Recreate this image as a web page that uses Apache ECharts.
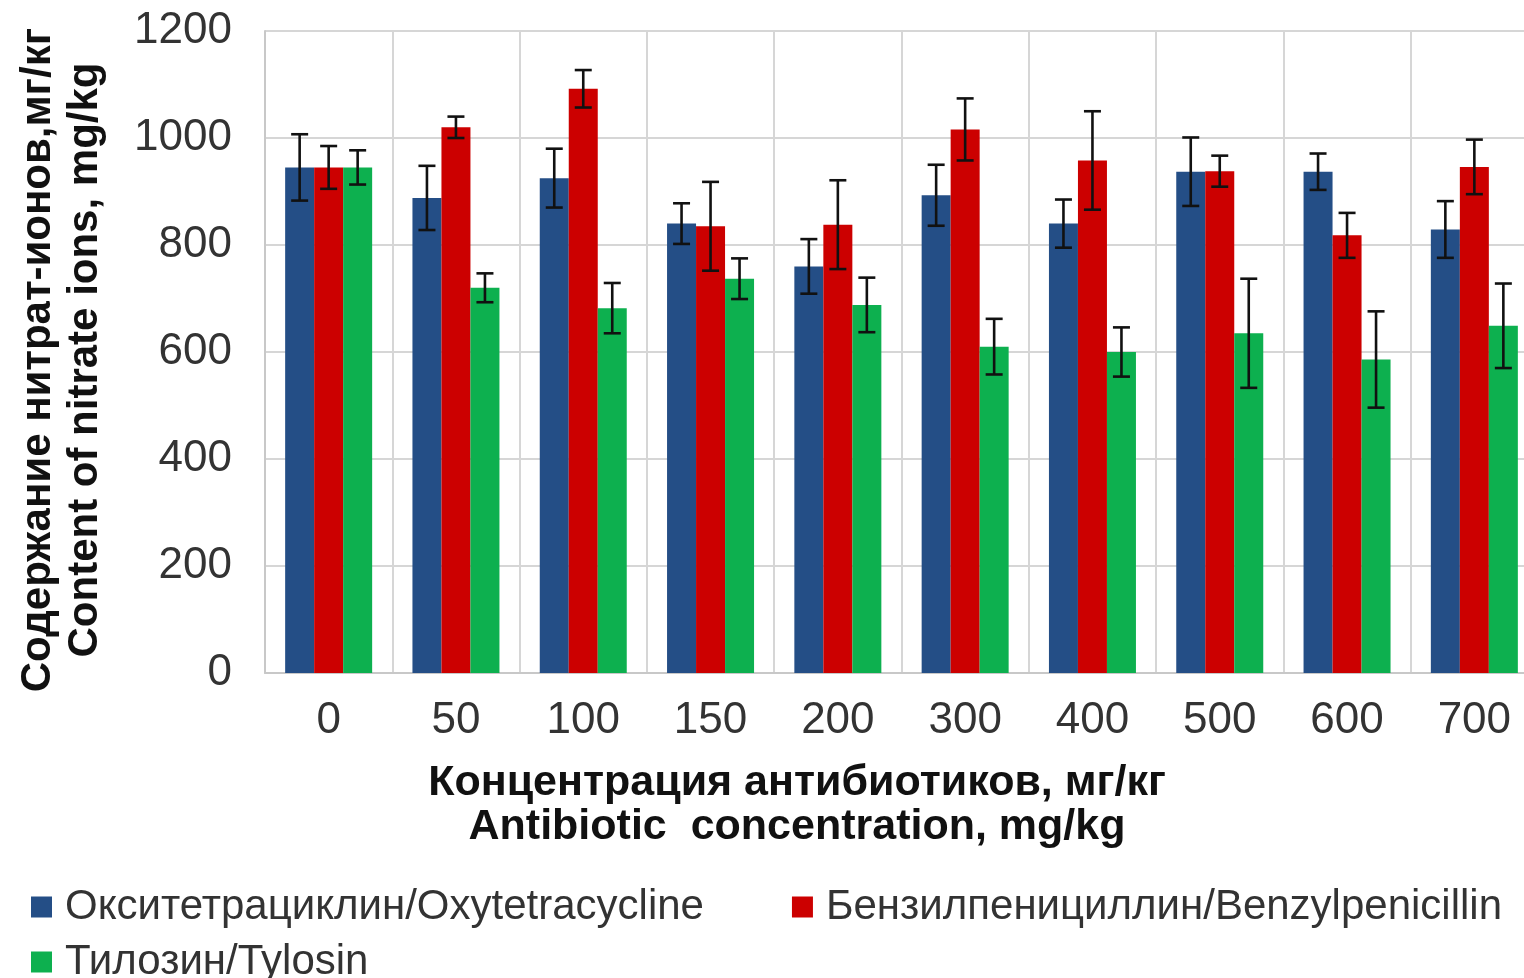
<!DOCTYPE html>
<html>
<head>
<meta charset="utf-8">
<script src="https://cdn.jsdelivr.net/npm/echarts@6/dist/echarts.min.js"></script>
<style>
html,body{margin:0;padding:0;background:#fff;overflow:hidden;}
#chart{width:1524px;height:978px;}
</style>
</head>
<body>
<div id="chart"></div>
<script>
const categories = ['0','50','100','150','200','300','400','500','600','700'];
const seriesNames = ['Окситетрациклин/Oxytetracycline','Бензилпенициллин/Benzylpenicillin','Тилозин/Tylosin'];
const oxytetracycline = [945, 888, 925, 840, 760, 893, 840, 937, 937, 829];
const oxytetracyclineErr = [62, 60, 55, 38, 51, 57, 45, 64, 34, 53];
const benzylpenicillin = [945, 1020, 1092, 835, 838, 1016, 958, 938, 818, 946];
const benzylpenicillinErr = [40, 20, 35, 83, 83, 58, 92, 29, 42, 51];
const tylosin = [945, 720, 682, 737, 688, 610, 600, 635, 586, 649];
const tylosinErr = [32, 27, 47, 38, 51, 52, 46, 102, 90, 79];
const yTicks = [0, 200, 400, 600, 800, 1000, 1200];

const colors = ['#244e86', '#cc0000', '#0db04f'];
const FONT = '"Liberation Sans", Arial, sans-serif';
const BAR_W = 29;

const values = [oxytetracycline, benzylpenicillin, tylosin];
const errs = [oxytetracyclineErr, benzylpenicillinErr, tylosinErr];

function errSeries(k) {
  return {
    type: 'custom',
    name: seriesNames[k] + ' err',
    z: 10,
    silent: true,
    data: categories.map((c, i) => [i, values[k][i] - errs[k][i], values[k][i] + errs[k][i]]),
    encode: { x: 0, y: [1, 2] },
    renderItem: function (params, api) {
      const idx = api.value(0);
      const lo = api.coord([idx, api.value(1)]);
      const hi = api.coord([idx, api.value(2)]);
      const x = lo[0] + (k - 1) * BAR_W;
      const cap = 8.5;
      const st = { stroke: '#111', lineWidth: 2.6 };
      return {
        type: 'group',
        children: [
          { type: 'line', shape: { x1: x, y1: lo[1], x2: x, y2: hi[1] }, style: st },
          { type: 'line', shape: { x1: x - cap, y1: hi[1], x2: x + cap, y2: hi[1] }, style: st },
          { type: 'line', shape: { x1: x - cap, y1: lo[1], x2: x + cap, y2: lo[1] }, style: st }
        ]
      };
    }
  };
}

const legendText = { fontFamily: FONT, fontSize: 42, color: '#333', padding: [0, 0, 0, 8] };

const chart = echarts.init(document.getElementById('chart'));
chart.setOption({
  animation: false,
  backgroundColor: '#ffffff',
  grid: { left: 265, width: 1273, top: 31, bottom: 305, outerBoundsMode: 'none', containLabel: false },
  legend: [
    {
      data: [seriesNames[0], seriesNames[1]],
      left: 26, top: 881, itemWidth: 21, itemHeight: 21, itemGap: 88,
      icon: 'rect', selectedMode: false, textStyle: legendText
    },
    {
      data: [seriesNames[2]],
      left: 26, top: 936, itemWidth: 21, itemHeight: 21,
      icon: 'rect', selectedMode: false, textStyle: legendText
    }
  ],
  xAxis: {
    type: 'category',
    data: categories,
    axisLine: { show: true, lineStyle: { color: '#c8c8c8', width: 2 } },
    axisTick: { show: false },
    splitLine: { show: true, lineStyle: { color: '#d6d6d6', width: 2 } },
    axisLabel: { fontFamily: FONT, fontSize: 44, color: '#333', margin: 26 }
  },
  yAxis: {
    type: 'value',
    min: 0, max: 1200, interval: 200,
    axisLine: { show: true, lineStyle: { color: '#c8c8c8', width: 2 } },
    axisTick: { show: false },
    splitLine: { show: true, lineStyle: { color: '#d6d6d6', width: 2 } },
    axisLabel: {
      fontFamily: FONT, fontSize: 44, color: '#333', margin: 33,
      formatter: function (v) { return yTicks.indexOf(v) >= 0 ? String(v) : ''; }
    }
  },
  graphic: [
    {
      type: 'text', x: 797, y: 761,
      style: {
        text: 'Концентрация антибиотиков, мг/кг\nAntibiotic  concentration, mg/kg',
        font: 'bold 43px ' + FONT, fill: '#111', textAlign: 'center', lineHeight: 44
      }
    },
    {
      type: 'text', x: 62, y: 360, rotation: Math.PI / 2,
      style: {
        text: 'Содержание нитрат-ионов,мг/кг\nContent of nitrate ions, mg/kg',
        font: 'bold 42px ' + FONT, fill: '#111', textAlign: 'center', textVerticalAlign: 'middle', lineHeight: 47
      }
    }
  ],
  series: [
    { type: 'bar', name: seriesNames[0], data: oxytetracycline, barWidth: BAR_W, barGap: '0%', itemStyle: { color: colors[0] } },
    { type: 'bar', name: seriesNames[1], data: benzylpenicillin, barWidth: BAR_W, barGap: '0%', itemStyle: { color: colors[1] } },
    { type: 'bar', name: seriesNames[2], data: tylosin, barWidth: BAR_W, barGap: '0%', itemStyle: { color: colors[2] } },
    errSeries(0), errSeries(1), errSeries(2)
  ]
});
</script>
</body>
</html>
